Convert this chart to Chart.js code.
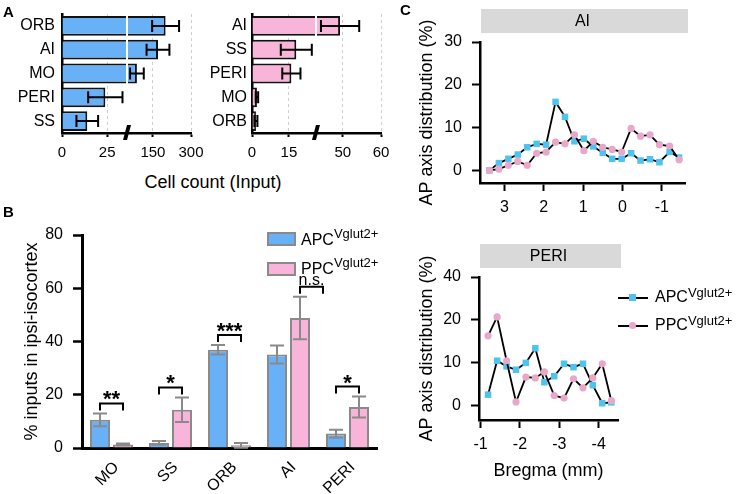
<!DOCTYPE html>
<html>
<head>
<meta charset="utf-8">
<script src="https://cdn.jsdelivr.net/npm/chart.js@4.4.1/dist/chart.umd.min.js"></script>
<style>
  body { margin: 0; background: #fff; }
  #page { position: relative; width: 740px; height: 494px; overflow: hidden;
          font-family: "Liberation Sans", Arial, sans-serif; color: #000; }
  canvas { position: absolute; }
  .txt { position: absolute; white-space: nowrap; font-size: 16px; line-height: 20px; }
  .sup { font-size: 13px; position: relative; }
  .panel { position: absolute; font-weight: bold; font-size: 15px; line-height: 15px; }
  .box { position: absolute; box-sizing: border-box; }
</style>
</head>
<body>
<div id="page">
  <canvas id="cntApc" width="215" height="170" style="left:0;top:0"></canvas>
  <canvas id="cntPpc" width="200" height="170" style="left:190px;top:0"></canvas>
  <canvas id="pctChart" width="390" height="294" style="left:0;top:200px"></canvas>
  <canvas id="apAI" width="350" height="230" style="left:390px;top:0"></canvas>
  <canvas id="apPeri" width="350" height="264" style="left:390px;top:230px"></canvas>

  <div class="panel" style="left:3px;top:4px">A</div>
  <div class="panel" style="left:3px;top:204px">B</div>
  <div class="panel" style="left:400px;top:2px">C</div>

  <div class="txt" style="left:213px;top:171px;font-size:18px;line-height:22px;transform:translateX(-50%)">Cell count (Input)</div>

  <!-- legend B -->
  <div class="box" style="left:267px;top:232px;width:29px;height:14px;background:#68b1f6;border:2px solid #8a8a8a"></div>
  <div class="txt" style="left:301px;top:230px">APC<span class="sup" style="top:-7px">Vglut2+</span></div>
  <div class="box" style="left:267px;top:262px;width:29px;height:14px;background:#f9b5d9;border:2px solid #8a8a8a"></div>
  <div class="txt" style="left:301px;top:259px">PPC<span class="sup" style="top:-7px">Vglut2+</span></div>

  <!-- legend C -->
  <div class="box" style="left:618px;top:297px;width:30px;height:2px;background:#000"></div>
  <div class="box" style="left:629px;top:294px;width:7px;height:7px;background:#4ec3f2"></div>
  <div class="txt" style="left:655px;top:287px">APC<span class="sup" style="top:-5px">Vglut2+</span></div>
  <div class="box" style="left:618px;top:325px;width:30px;height:2px;background:#000"></div>
  <div class="box" style="left:629px;top:322px;width:7px;height:7px;border-radius:50%;background:#e9a7c9"></div>
  <div class="txt" style="left:655px;top:315px">PPC<span class="sup" style="top:-5px">Vglut2+</span></div>
</div>
<script>
// ---- data ----
// A: cell counts (input), broken x axes
var regionsApc = ['ORB', 'AI', 'MO', 'PERI', 'SS'];
var countApc = [200, 170, 87, 24, 14];
var countApcErr = [53, 45, 27, 9.5, 6];
var tickApc = [0, 25, 150, 300];

var regionsPpc = ['AI', 'SS', 'PERI', 'MO', 'ORB'];
var countPpc = [49.3, 18, 16, 2, 1.6];
var countPpcErr = [5, 6.3, 3.7, 0.5, 0.6];
var tickPpc = [0, 15, 50, 60];

// B: % inputs in ipsi-isocortex
var regionsB = ['MO', 'SS', 'ORB', 'AI', 'PERI'];
var pctApc = [10.6, 1.9, 36.9, 35.1, 5.4];
var pctApcErr = [2.4, 0.7, 1.8, 3.4, 1.5];
var pctPpc = [1.3, 14.4, 1.0, 48.8, 15.4];
var pctPpcErr = [0.4, 4.6, 0.9, 8, 3.9];
var sigLabels = ['**', '*', '***', 'n.s.', '*'];
var pctTicks = [0, 20, 40, 60, 80];

// C: AP axis distribution (%)
var bregmaAI = [3.38, 3.14, 2.90, 2.66, 2.42, 2.18, 1.94, 1.70, 1.46, 1.22, 0.98,
                0.74, 0.50, 0.26, 0.02, -0.22, -0.46, -0.70, -0.94, -1.20, -1.44];
var apcAI = [0, 1.7, 2.7, 3.7, 5.4, 6.2, 6.0, 16.0, 12.5, 6.8, 7.4,
             5.6, 4.1, 2.7, 2.7, 4.0, 2.3, 2.6, 1.9, 4.3, 3.0];
var ppcAI = [0, 0.3, 1.2, 2.1, 1.2, 4.0, 4.3, 6.6, 6.2, 8.3, 4.6,
             6.8, 5.4, 4.9, 4.3, 9.8, 8.0, 8.3, 6.0, 5.7, 2.5];
var xTicksAI = [3, 2, 1, 0, -1];

var bregmaPeri = [-1.19, -1.42, -1.66, -1.90, -2.15, -2.39, -2.62, -2.87, -3.12, -3.36, -3.60, -3.85, -4.09, -4.32];
var apcPeri = [2.6, 10.5, 9.2, 8.4, 10.0, 13.4, 5.5, 6.9, 9.8, 9.0, 9.8, 4.8, 0.6, 0.8];
var ppcPeri = [16.3, 20.7, 10.5, 0.9, 6.7, 6.5, 7.9, 2.4, 1.8, 6.3, 4.2, 6.5, 9.8, 1.2];
var xTicksPeri = [-1, -2, -3, -4];

var yTicksAP = [0, 10, 20, 30];
var yLabelsAI = ['0', '10', '20', '30'];
var yLabelsPeri = ['0', '10', '20', '40'];

var BLUE_BAR = '#68b1f6', PINK_BAR = '#f9b5d9';
var BLUE_PT = '#4ec3f2', PINK_PT = '#e9a7c9';
var FONT = '"Liberation Sans", Arial, sans-serif';

Chart.defaults.font.family = FONT;
Chart.defaults.color = '#000';
Chart.defaults.animation = false;
Chart.defaults.events = [];
Chart.defaults.plugins.legend.display = false;
Chart.defaults.plugins.tooltip.enabled = false;

// ---- broken linear axis ----
function brokenFrac(pieces, v) {
	for (var i = 1; i < pieces.length; i++) {
		var p0 = pieces[i - 1], p1 = pieces[i];
		if (v <= p1[0] || i == pieces.length - 1) {
			if (p1[0] == p0[0]) return p0[1];
			return p0[1] + (v - p0[0]) / (p1[0] - p0[0]) * (p1[1] - p0[1]);
		}
	}
	return 0;
}
function breakAt(pieces) {
	for (var i = 1; i < pieces.length; i++) {
		if (pieces[i][1] == pieces[i - 1][1]) return pieces[i][1];
	}
	return null;
}

var LinearScale = Chart.registry.getScale('linear');
class BrokenScale extends LinearScale {
	buildTicks() {
		this.start = this.min;
		this.end = this.max;
		return this.options.tickValues.map(function(v) { return { value: v }; });
	}
	getPixelForValue(v) {
		return this.getPixelForDecimal(brokenFrac(this.options.pieces, v));
	}
}
BrokenScale.id = 'broken';
BrokenScale.defaults = {};
Chart.register(BrokenScale);

// ---- plugins ----
var breakPlugin = {
	id: 'axisBreak',
	afterDatasetsDraw: function(chart) {
		var xs = chart.scales.x, area = chart.chartArea, ctx = chart.ctx;
		var bx = xs.getPixelForDecimal(breakAt(xs.options.pieces));
		ctx.save();
		ctx.strokeStyle = '#fff';
		ctx.lineWidth = 2;
		ctx.beginPath();
		ctx.moveTo(bx, area.top);
		ctx.lineTo(bx, area.bottom - 2);
		ctx.stroke();
		ctx.restore();
	},
	afterDraw: function(chart) {
		var xs = chart.scales.x, y = chart.chartArea.bottom, ctx = chart.ctx;
		var bx = xs.getPixelForDecimal(breakAt(xs.options.pieces));
		ctx.save();
		ctx.fillStyle = '#000';
		ctx.beginPath();
		ctx.moveTo(bx - 4, y + 7);
		ctx.lineTo(bx, y + 7);
		ctx.lineTo(bx + 4, y - 8);
		ctx.lineTo(bx, y - 8);
		ctx.closePath();
		ctx.fill();
		ctx.restore();
	}
};

var errorBarPlugin = {
	id: 'errorBars',
	afterDatasetsDraw: function(chart, args, opts) {
		var ctx = chart.ctx;
		var horizontal = chart.options.indexAxis === 'y';
		var vScale = horizontal ? chart.scales.x : chart.scales.y;
		chart.data.datasets.forEach(function(ds, di) {
			var meta = chart.getDatasetMeta(di);
			ctx.save();
			ctx.strokeStyle = opts.color;
			ctx.lineWidth = opts.width;
			meta.data.forEach(function(bar, i) {
				var lo = vScale.getPixelForValue(ds.data[i] - ds.errors[i]);
				var hi = vScale.getPixelForValue(ds.data[i] + ds.errors[i]);
				var c = opts.cap;
				ctx.beginPath();
				if (horizontal) {
					ctx.moveTo(lo, bar.y); ctx.lineTo(hi, bar.y);
					ctx.moveTo(lo, bar.y - c); ctx.lineTo(lo, bar.y + c);
					ctx.moveTo(hi, bar.y - c); ctx.lineTo(hi, bar.y + c);
				} else {
					ctx.moveTo(bar.x, lo); ctx.lineTo(bar.x, hi);
					ctx.moveTo(bar.x - c, lo); ctx.lineTo(bar.x + c, lo);
					ctx.moveTo(bar.x - c, hi); ctx.lineTo(bar.x + c, hi);
				}
				ctx.stroke();
			});
			ctx.restore();
		});
	}
};

var sigPlugin = {
	id: 'sigBrackets',
	afterDatasetsDraw: function(chart) {
		var ctx = chart.ctx, ys = chart.scales.y;
		var d0 = chart.data.datasets[0], d1 = chart.data.datasets[1];
		var m0 = chart.getDatasetMeta(0), m1 = chart.getDatasetMeta(1);
		ctx.save();
		ctx.strokeStyle = '#000';
		ctx.fillStyle = '#000';
		ctx.lineWidth = 2;
		ctx.textAlign = 'center';
		sigLabels.forEach(function(txt, i) {
			var top = Math.min(ys.getPixelForValue(d0.data[i] + d0.errors[i]),
			                   ys.getPixelForValue(d1.data[i] + d1.errors[i]));
			var by = top - 10;
			var x0 = m0.data[i].x, x1 = m1.data[i].x;
			if (txt == 'n.s.') { var d = x1 - x0; x0 += d; x1 += d; }
			ctx.beginPath();
			ctx.moveTo(x0, by + 7);
			ctx.lineTo(x0, by);
			ctx.lineTo(x1, by);
			ctx.lineTo(x1, by + 7);
			ctx.stroke();
			if (txt == 'n.s.') {
				ctx.font = '16px ' + FONT;
				ctx.fillText(txt, (x0 + x1) / 2, by - 2);
			} else {
				ctx.font = 'bold 22px ' + FONT;
				ctx.fillText(txt, (x0 + x1) / 2, by + 3);
			}
		});
		ctx.restore();
	}
};

var headerPlugin = {
	id: 'header',
	afterDraw: function(chart, args, opts) {
		var a = chart.chartArea, ctx = chart.ctx;
		ctx.save();
		ctx.fillStyle = '#d9d9d9';
		ctx.fillRect(a.left + 1, a.top - 33, a.right - a.left + 2, 24);
		ctx.fillStyle = '#000';
		ctx.font = '16px ' + FONT;
		ctx.textAlign = 'center';
		ctx.textBaseline = 'middle';
		ctx.fillText(opts.text, (a.left + a.right) / 2, a.top - 20);
		ctx.restore();
	}
};

// ---- panel A ----
function countChart(id, labels, values, errs, ticks, pieces, color, labelPad, padRight) {
	return new Chart(document.getElementById(id), {
		type: 'bar',
		data: {
			labels: labels,
			datasets: [{
				data: values,
				errors: errs,
				backgroundColor: color,
				borderColor: '#111',
				borderWidth: 2,
				borderSkipped: 'start',
				categoryPercentage: 1,
				barPercentage: 0.83
			}]
		},
		options: {
			responsive: false,
			indexAxis: 'y',
			layout: { padding: { top: 14, right: padRight, left: 0, bottom: 0 } },
			scales: {
				x: {
					type: 'broken', min: 0, max: ticks[ticks.length - 1],
					pieces: pieces, tickValues: ticks,
					grid: {
						color: function(c) { return c.tick && c.tick.value === 0 ? 'rgba(0,0,0,0)' : '#cfcfcf'; },
						lineWidth: 1, tickLength: 4, tickColor: '#000', tickWidth: 2
					},
					border: { color: '#000', width: 2.5, dash: [3, 3] },
					ticks: { font: { size: 15 }, padding: 7, autoSkip: false, maxRotation: 0,
						callback: function(v) { return String(v); } },
					afterFit: function(s) { s.height = 37; s.paddingLeft = 0; s.paddingRight = 0; }
				},
				y: {
					z: 1,
					grid: { display: false, drawTicks: false },
					border: { color: '#000', width: 2.5 },
					ticks: { font: { size: 16 }, padding: labelPad, autoSkip: false },
					afterFit: function(s) { s.width = 62; s.paddingTop = 0; s.paddingBottom = 0; }
				}
			},
			plugins: { errorBars: { color: '#000', width: 2, cap: 6 } }
		},
		plugins: [breakPlugin, errorBarPlugin]
	});
}

countChart('cntApc', regionsApc, countApc, countApcErr, tickApc,
	[[0, 0], [36, 0.504], [48, 0.504], [300, 1]], BLUE_BAR, 7, 24);
countChart('cntPpc', regionsPpc, countPpc, countPpcErr, tickPpc,
	[[0, 0], [26, 0.496], [43, 0.496], [60, 1]], PINK_BAR, 5, 9);

// ---- panel B ----
new Chart(document.getElementById('pctChart'), {
	type: 'bar',
	data: {
		labels: regionsB,
		datasets: [{
			label: 'APC', data: pctApc, errors: pctApcErr,
			backgroundColor: BLUE_BAR, borderColor: '#8a8a8a', borderWidth: 2, borderSkipped: 'start',
			categoryPercentage: 0.78, barPercentage: 0.87
		}, {
			label: 'PPC', data: pctPpc, errors: pctPpcErr,
			backgroundColor: PINK_BAR, borderColor: '#8a8a8a', borderWidth: 2, borderSkipped: 'start',
			categoryPercentage: 0.78, barPercentage: 0.87
		}]
	},
	options: {
		responsive: false,
		layout: { padding: { top: 35, right: 13, left: 0, bottom: 0 } },
		scales: {
			x: {
				z: 1,
				grid: { display: false, drawTicks: false },
				border: { color: '#000', width: 3 },
				ticks: { font: { size: 16 }, padding: 10, labelOffset: 5, minRotation: 45, maxRotation: 45, autoSkip: false },
				afterFit: function(s) { s.height = 46; s.paddingLeft = 0; s.paddingRight = 0; }
			},
			y: {
				min: 0, max: 80,
				afterBuildTicks: function(s) { s.ticks = pctTicks.map(function(v) { return { value: v }; }); },
				grid: { drawOnChartArea: false, tickLength: 9, tickColor: '#000', tickWidth: 2.5 },
				border: { color: '#000', width: 3 },
				ticks: { font: { size: 16 }, padding: 10 },
				title: { display: true, text: '% inputs in ipsi-isocortex', font: { size: 18 }, padding: { top: 21 } },
				afterFit: function(s) { s.width = 82; s.paddingTop = 0; s.paddingBottom = 0; }
			}
		},
		plugins: { errorBars: { color: '#8a8a8a', width: 2, cap: 7 } }
	},
	plugins: [errorBarPlugin, sigPlugin]
});

// ---- panel C ----
function apChart(id, xs, apc, ppc, o) {
	var xScale = {
		type: 'linear', reverse: true, min: o.xMin, max: o.xMax,
		afterBuildTicks: function(s) { s.ticks = o.xTicks.map(function(v) { return { value: v }; }); },
		grid: { drawOnChartArea: false, tickLength: 8, tickColor: '#000', tickWidth: 2 },
		border: { color: '#000', width: 2.5 },
		ticks: { font: { size: 16 }, padding: 7, maxRotation: 0, autoSkip: false,
			callback: function(v) { return String(v); } },
		afterFit: function(s) { s.height = o.xH; s.paddingLeft = 0; s.paddingRight = 0; }
	};
	if (o.xTitle) {
		xScale.title = { display: true, text: o.xTitle, font: { size: 18 }, padding: { bottom: 12 } };
	}
	return new Chart(document.getElementById(id), {
		type: 'line',
		data: {
			datasets: [{
				label: 'PPC',
				data: xs.map(function(x, i) { return { x: x, y: ppc[i] }; }),
				borderColor: '#000', borderWidth: 1.8,
				pointStyle: 'circle', pointRadius: 3.6,
				pointBackgroundColor: PINK_PT, pointBorderWidth: 0
			}, {
				label: 'APC',
				data: xs.map(function(x, i) { return { x: x, y: apc[i] }; }),
				borderColor: '#000', borderWidth: 1.8,
				pointStyle: 'rect', pointRadius: 4.6,
				pointBackgroundColor: BLUE_PT, pointBorderWidth: 0
			}]
		},
		options: {
			responsive: false,
			layout: { padding: { top: o.top, right: o.right, left: 0, bottom: 0 } },
			scales: {
				x: xScale,
				y: {
					min: o.yMin, max: 30,
					afterBuildTicks: function(s) { s.ticks = yTicksAP.map(function(v) { return { value: v }; }); },
					grid: { drawOnChartArea: false, tickLength: 8, tickColor: '#000', tickWidth: 2 },
					border: { color: '#000', width: 2.5 },
					ticks: { font: { size: 16 }, padding: 10,
						callback: function(v, i) { return o.yLabels[i]; } },
					title: { display: true, text: 'AP axis distribution (%)', font: { size: 18 }, padding: { top: 26 } },
					afterFit: function(s) { s.width = o.yW; s.paddingTop = 0; s.paddingBottom = 0; }
				}
			},
			plugins: { header: { text: o.header } }
		},
		plugins: [headerPlugin]
	});
}

apChart('apAI', bregmaAI, apcAI, ppcAI, {
	xMin: -1.59, xMax: 3.62, xTicks: xTicksAI, xH: 47, yMin: -2.95, yLabels: yLabelsAI,
	yW: 90, top: 42, right: 55, header: 'AI'
});
apChart('apPeri', bregmaPeri, apcPeri, ppcPeri, {
	xMin: -4.49, xMax: -0.96, xTicks: xTicksPeri, xH: 74, yMin: -3.3, yLabels: yLabelsPeri,
	yW: 89, top: 47, right: 122, header: 'PERI', xTitle: 'Bregma (mm)'
});
</script>
</body>
</html>
